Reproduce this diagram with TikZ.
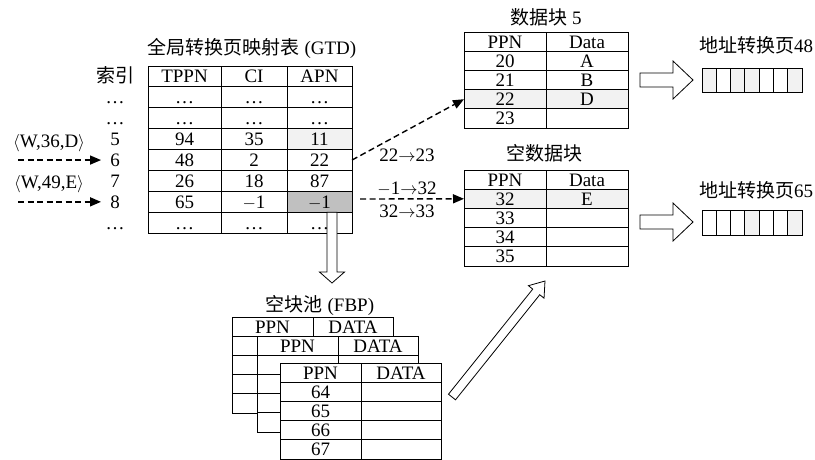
\documentclass[tikz,border=0pt]{standalone}
\usepackage{fontspec}
\setmainfont{Liberation Serif}
\newfontfamily\cjk{Noto Sans CJK SC}
\usetikzlibrary{arrows.meta,calc}
\definecolor{lightfill}{HTML}{F2F2F2}
\definecolor{darkfill}{HTML}{C0C0C0}
\tikzset{
  cell/.style 2 args={draw, line width=0.9pt, minimum width=#1, minimum height=#2,
    inner sep=0pt, outer sep=0pt, text height=13pt, text depth=0pt, anchor=north west},
  idxlabel/.style={inner sep=1pt, text height=13pt, text depth=0pt},
  dasharrow/.style={line width=1.4pt, dash pattern=on 6pt off 3.5pt,
    -{Triangle[length=11pt,width=9pt]}},
}
% hollow block arrow: from, to, shaft half width, head half width, head length
\newcommand{\hollowarrow}[5]{%
  \draw[line width=0.8pt, fill=white] let \p1=(#1), \p2=(#2),
    \n1={atan2(\y2-\y1,\x2-\x1)}, \n2={veclen(\x2-\x1,\y2-\y1)} in
    [shift={(\p1)}, rotate=\n1]
    (0,-#3) -- ({\n2-#5},-#3) -- ({\n2-#5},-#4) -- (\n2,0)
    -- ({\n2-#5},#4) -- ({\n2-#5},#3) -- (0,#3) -- cycle;
}
\begin{document}
\begin{tikzpicture}[x=1pt,y=-1pt,every node/.append style={font=\fontsize{19}{21}\selectfont}]
\useasboundingbox (0,0) rectangle (815,459);
\def\rh{20.9}% GTD row height
\def\dh{19.2}% data block row height
%global translation directory
\node (gtd-title) at (252,48) {{\cjk 全局转换页映射表} (GTD)};
\foreach \r/\a/\b/\c/\f in {0/TPPN/CI/APN/white, 1/\dots/\dots/\dots/white,
    2/\dots/\dots/\dots/white, 3/94/35/11/lightfill, 4/48/2/22/white,
    5/26/18/87/white, 6/65/$-$1/$-$1/darkfill, 7/\dots/\dots/\dots/white}{
  \node[cell={73pt}{\rh pt}] (gtd-\r-1) at (148,{66+\r*\rh}) {\a};
  \node[cell={66pt}{\rh pt}] (gtd-\r-2) at (221,{66+\r*\rh}) {\b};
  \node[cell={65pt}{\rh pt}, fill=\f] (gtd-\r-3) at (287,{66+\r*\rh}) {\c};
}
%index column
\foreach \r/\t in {0/{\cjk 索引}, 1/\dots, 2/\dots, 3/5, 4/6, 5/7, 6/8, 7/\dots}
  \node[idxlabel] (idx-\r) at (115,{66+\r*\rh+\rh/2}) {\t};
%write requests
\node (req-d) at (49,143) {$\langle$W,36,D$\rangle$};
\node (req-e) at (49,184) {$\langle$W,49,E$\rangle$};
\coordinate (w36) at ($(idx-4.west)+(-91,0)$);
\coordinate (w49) at ($(idx-6.west)+(-91,0)$);
\draw[dasharrow, shorten >=8pt] (w36) -- (idx-4.west);
\draw[dasharrow, shorten >=8pt] (w49) -- (idx-6.west);
%data block 5
\node (db5-title) at (546,17) {{\cjk 数据块} 5};
\foreach \r/\a/\b/\f in {0/PPN/Data/white, 1/20/A/white, 2/21/B/white,
    3/22/D/lightfill, 4/23//white}{
  \node[cell={82pt}{\dh pt}, fill=\f] (db5-\r-1) at (464,{32+\r*\dh}) {\a};
  \node[cell={82pt}{\dh pt}, fill=\f] (db5-\r-2) at (546,{32+\r*\dh}) {\b};
}
%empty data block
\node (eb-title) at (544,153) {\cjk 空数据块};
\foreach \r/\a/\b/\f in {0/PPN/Data/white, 1/32/E/lightfill, 2/33//white,
    3/34//white, 4/35//white}{
  \node[cell={82pt}{\dh pt}, fill=\f] (eb-\r-1) at (464,{170+\r*\dh}) {\a};
  \node[cell={82pt}{\dh pt}, fill=\f] (eb-\r-2) at (546,{170+\r*\dh}) {\b};
}
%update labels
\node (lbl-a) at (407,155) {22$\rightarrow$23};
\node (lbl-b) at (407,189) {$-$1$\rightarrow$32};
\node (lbl-c) at (407,211) {32$\rightarrow$33};
\draw[dasharrow] (gtd-4-3.east) -- (db5-3-1.west);
\coordinate (gtd-out) at (360,199);
\draw[dasharrow] (gtd-out) -- (eb-1-1.west);
%translation pages
\node (p48-title) at (756,45) {{\cjk 地址转换页}48};
\node (p65-title) at (756,190) {{\cjk 地址转换页}65};
\foreach \i/\f in {0/lightfill,1/white,2/lightfill,3/lightfill,4/white,5/white,6/lightfill}
  \node[cell={14.29pt}{24pt}, fill=\f] (p48-\i) at ({702+\i*14.29},68) {};
\foreach \i/\f in {0/white,1/white,2/white,3/lightfill,4/white,5/white,6/lightfill}
  \node[cell={14.29pt}{25pt}, fill=\f] (p65-\i) at ({702+\i*14.29},210) {};
%free block pool, three stacked tables
\node (fbp-title) at (320,305) {{\cjk 空块池} (FBP)};
\foreach \t/\x/\y in {1/232/317, 2/257/336, 3/280/363}{
  \foreach \r in {0,...,4}{
    \node[cell={81pt}{\dh pt}, fill=white] (fbp\t-\r-1) at (\x,{\y+\r*\dh}) {};
    \node[cell={80pt}{\dh pt}, fill=white] (fbp\t-\r-2) at ({\x+81},{\y+\r*\dh}) {};
  }
  \node[cell={81pt}{\dh pt}] at (\x,\y) {PPN};
  \node[cell={80pt}{\dh pt}] at ({\x+81},\y) {DATA};
}
\foreach \r/\a in {1/64, 2/65, 3/66, 4/67}
  \node[cell={81pt}{\dh pt}] (fbp-ppn-\r) at (280,{363+\r*\dh}) {\a};
%block arrows
\coordinate (apn-out) at ($(gtd-6-3.south)+(12.5,0)$);
\coordinate (fbp-in) at (332,283);
\coordinate (fbp-out) at (452,397);
\coordinate (eb-in) at (545,281);
\coordinate (a48-s) at (640,80);
\coordinate (a48-e) at (693,80);
\coordinate (a65-s) at (640,222);
\coordinate (a65-e) at (693,222);
\hollowarrow{apn-out}{fbp-in}{5}{12.5}{11}
\hollowarrow{fbp-out}{eb-in}{4.5}{10}{14}
\hollowarrow{a48-s}{a48-e}{7}{19}{20}
\hollowarrow{a65-s}{a65-e}{7}{19}{20}
\end{tikzpicture}
\end{document}
